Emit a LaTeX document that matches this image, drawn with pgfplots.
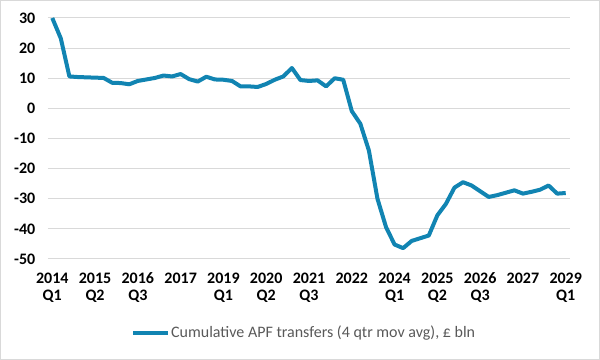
\documentclass[border=0pt]{standalone}
\usepackage{pgfplots}
\pgfplotsset{compat=1.18}
\usepackage{fontspec}
\setmainfont{Carlito}
\definecolor{lineblue}{RGB}{17,132,178}
\definecolor{gridgray}{RGB}{217,217,217}
\definecolor{txtgray}{RGB}{89,89,89}
\begin{document}
\begin{tikzpicture}
\useasboundingbox (-36pt,-75.75pt) rectangle (414pt,194.25pt);
\draw[gridgray, line width=0.75pt] (-35.6pt,-75.4pt) rectangle (413.6pt,193.9pt);
\begin{axis}[
  scale only axis,
  width=391.5pt, height=180.75pt,
  xmin=-0.5, xmax=60.5,
  ymin=-50, ymax=30,
  axis line style={draw=none},
  major tick length=0pt,
  ytick={-50,-40,-30,-20,-10,0,10,20,30},
  yticklabels={-50,-40,-30,-20,-10,0,10,20,30},
  ymajorgrids,
  grid style={gridgray, line width=0.75pt},
  xtick={0,5,10,15,20,25,30,35,40,45,50,55,60},
  xticklabels={{2014\\Q1},{2015\\Q2},{2016\\Q3},{2017},{2019\\Q1},{2020\\Q2},{2021\\Q3},{2022},{2024\\Q1},{2025\\Q2},{2026\\Q3},{2027},{2029\\Q1}},
  xticklabel style={align=center, font=\fontsize{12}{12.75}\selectfont\bfseries, yshift=-7pt},
  yticklabel style={font=\fontsize{12}{14}\selectfont\bfseries, xshift=-6pt},
  clip=false,
  legend style={at={(0.49,-0.307)}, anchor=center, draw=none, fill=none,
    font=\fontsize{12}{14}\selectfont\color{txtgray}, legend columns=1,
    nodes={inner xsep=1pt},
    /tikz/every even column/.append style={column sep=0pt}},
  legend image code/.code={\draw[#1, line width=3pt] (0pt,0pt) -- (26pt,0pt);},
]
\addplot[lineblue, line width=3pt, line join=round] coordinates {
(0,30) (1,23.2) (2,10.6) (3,10.4) (4,10.3) (5,10.2) (6,10.1) (7,8.5) (8,8.4) (9,8.0)
(10,9.1) (11,9.6) (12,10.1) (13,10.9) (14,10.6) (15,11.4) (16,9.7) (17,8.9) (18,10.5) (19,9.6)
(20,9.5) (21,9.1) (22,7.3) (23,7.3) (24,7.1) (25,8.1) (26,9.5) (27,10.6) (28,13.4) (29,9.4)
(30,9.1) (31,9.3) (32,7.3) (33,10.0) (34,9.5) (35,-0.9) (36,-5.1) (37,-14) (38,-30) (39,-39.4)
(40,-45.2) (41,-46.4) (42,-44.0) (43,-43.1) (44,-42.2) (45,-35.5) (46,-31.7) (47,-26.3) (48,-24.5) (49,-25.6)
(50,-27.5) (51,-29.4) (52,-28.8) (53,-28.0) (54,-27.2) (55,-28.3) (56,-27.7) (57,-27.0) (58,-25.6) (59,-28.3)
(60,-28.1)
};
\addlegendentry{Cumulative APF transfers (4 qtr mov avg), £ bln}
\end{axis}
\end{tikzpicture}
\end{document}
